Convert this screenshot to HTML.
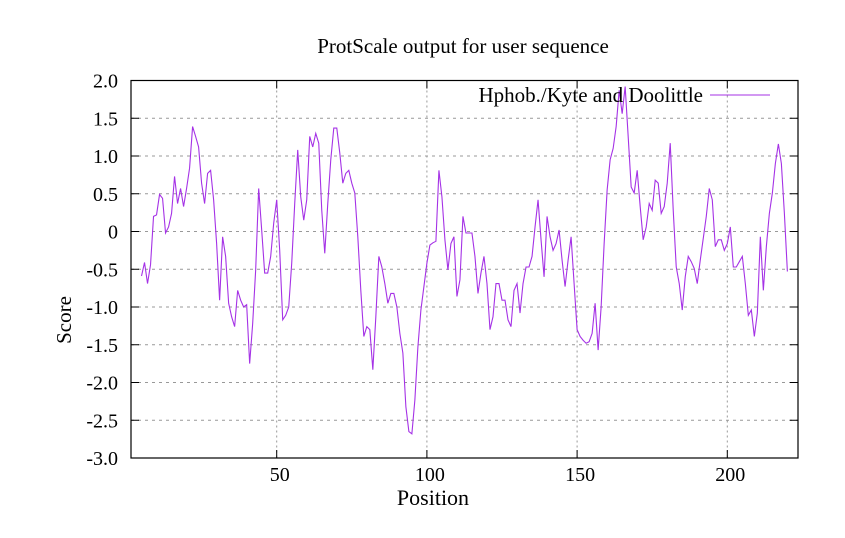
<!DOCTYPE html>
<html><head><meta charset="utf-8"><style>
body{margin:0;background:#fff}
svg text{font-family:"Liberation Serif",serif;fill:#000}
</style></head><body>
<svg id="chart" width="845" height="533" viewBox="0 0 845 533">
<text x="463" y="53" font-size="21" text-anchor="middle">ProtScale output for user sequence</text>
<g id="grid"></g>
<g id="axes"></g>
<path id="series" fill="none" stroke="#a532e6" stroke-width="1.1"></path>
<text x="703" y="102" font-size="21" text-anchor="end">Hphob./Kyte and Doolittle</text>
<line x1="710" y1="95" x2="770" y2="95" stroke="#a532e6" stroke-width="1"/>
<text x="433" y="505" font-size="22" text-anchor="middle">Position</text>
<text x="71" y="320" font-size="21" text-anchor="middle" transform="rotate(-90 71 320)">Score</text>
</svg>
<script>
const startPos = 5;
const scores = [-0.59,-0.41,-0.69,-0.44,0.20,0.22,0.49,0.44,-0.02,0.06,0.24,0.73,0.37,0.57,0.33,0.57,0.84,1.39,1.26,1.12,0.64,0.37,0.77,0.81,0.42,-0.16,-0.91,-0.07,-0.33,-0.95,-1.13,-1.26,-0.78,-0.91,-1.00,-0.97,-1.75,-1.22,-0.51,0.57,0.02,-0.55,-0.55,-0.33,0.11,0.42,-0.25,-1.17,-1.11,-1.00,-0.42,0.37,1.08,
0.46,0.15,0.42,1.26,1.12,1.30,1.17,0.28,-0.29,0.37,0.95,1.37,1.37,1.04,0.64,0.77,0.81,0.64,0.51,-0.07,-0.78,-1.39,-1.26,-1.30,-1.83,-1.13,-0.33,-0.47,-0.69,-0.95,-0.82,-0.82,-1.00,-1.35,-1.61,-2.32,-2.65,-2.68,-2.23,-1.53,-1.04,-0.73,-0.42,-0.18,-0.15,-0.13,0.81,0.46,-0.11,-0.51,-0.16,-0.07,-0.86,-0.64,
0.20,-0.02,-0.02,-0.02,-0.33,-0.82,-0.55,-0.33,-0.69,-1.30,-1.13,-0.69,-0.69,-0.91,-0.91,-1.17,-1.26,-0.78,-0.69,-1.08,-0.69,-0.47,-0.47,-0.33,0.06,0.42,-0.11,-0.60,0.20,-0.07,-0.25,-0.16,0.02,-0.38,-0.73,-0.38,-0.07,-0.69,-1.30,-1.39,-1.44,-1.48,-1.46,-1.35,-0.95,-1.57,-1.00,-0.16,0.55,0.95,1.10,1.39,1.87,
1.56,1.92,1.26,0.59,0.51,0.81,0.33,-0.11,0.06,0.37,0.28,0.68,0.64,0.24,0.33,0.64,1.17,0.28,-0.47,-0.69,-1.04,-0.60,-0.33,-0.40,-0.49,-0.69,-0.38,-0.09,0.20,0.57,0.42,-0.20,-0.11,-0.11,-0.25,-0.16,0.06,-0.47,-0.47,-0.40,-0.33,-0.69,-1.11,-1.04,-1.39,-1.08,-0.07,-0.78,-0.20,0.24,0.51,0.90,1.16,0.90,0.24,-0.53];
const yTicks = [2.0,1.5,1.0,0.5,0,-0.5,-1.0,-1.5,-2.0,-2.5,-3.0];
const yTickLabels = ["2.0","1.5","1.0","0.5","0","-0.5","-1.0","-1.5","-2.0","-2.5","-3.0"];
const xTicks = [50,100,150,200];
const xTickLabels = ["50","100","150","200"];

const L=131,R=798,T=80.5,B=458;
const yMin=-3,yMax=2;
const sx=p=>126.5+3.004*p;
const sy=v=>B-(v-yMin)/(yMax-yMin)*(B-T);
const NS="http://www.w3.org/2000/svg";
const grid=document.getElementById('grid'),axes=document.getElementById('axes');
function mk(tag,attrs,parent){const e=document.createElementNS(NS,tag);for(const k in attrs)e.setAttribute(k,attrs[k]);parent.appendChild(e);return e;}

yTicks.forEach((v,i)=>{
  const y=sy(v);
  if(i>0&&i<yTicks.length-1){
    const g=mk('line',{x1:L,x2:R,y1:y,y2:y,stroke:'#999','stroke-dasharray':'3,4','stroke-width':1},grid);
    
    
  }
  const t1=mk('line',{x1:L,x2:L+8,y1:y,y2:y,stroke:'#000'},axes);
  
  
  const t2=mk('line',{x1:R-8,x2:R,y1:y,y2:y,stroke:'#000'},axes);
  
  
  const tx=mk('text',{x:118,y:y+7,'font-size':20,'text-anchor':'end'},axes);
  tx.textContent=yTickLabels[i];
  
  
});
xTicks.forEach((p,i)=>{
  const x=sx(p);
  const g=mk('line',{x1:x,x2:x,y1:T,y2:B,stroke:'#999','stroke-dasharray':'2,3','stroke-width':1},grid);
  
  
  const t1=mk('line',{x1:x,x2:x,y1:B-8,y2:B,stroke:'#000'},axes);
  
  
  const t2=mk('line',{x1:x,x2:x,y1:T,y2:T+8,stroke:'#000'},axes);
  
  
  const tx=mk('text',{x:x+3,y:481,'font-size':20,'text-anchor':'middle'},axes);
  tx.textContent=xTickLabels[i];
  
  
});
const fr=mk('rect',{x:L,y:T,width:R-L,height:B-T,fill:'none',stroke:'#000','stroke-width':1.2},axes);



let d='';
scores.forEach((v,i)=>{d+=(i?'L':'M')+sx(startPos+i).toFixed(2)+','+sy(v).toFixed(2);});
document.getElementById('series').setAttribute('d',d);
</script>
</body></html>
